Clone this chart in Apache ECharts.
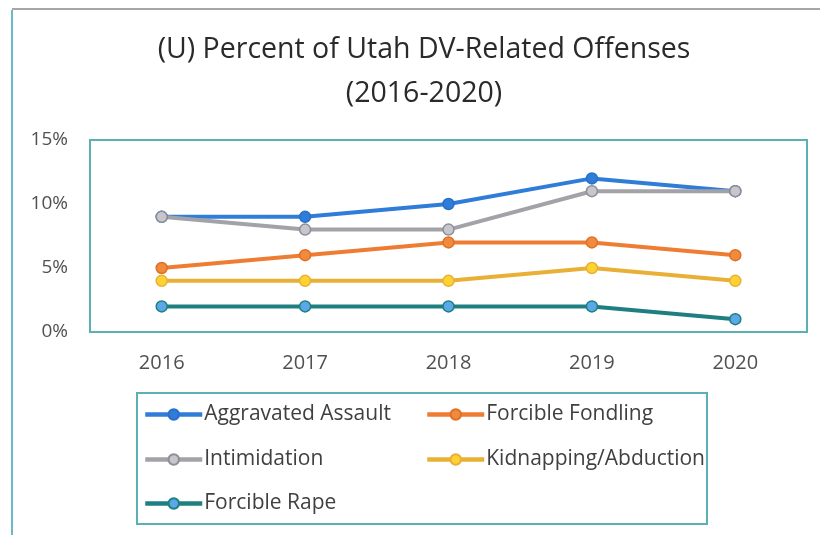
<!DOCTYPE html>
<html><head><meta charset="utf-8">
<script src="https://cdn.jsdelivr.net/npm/echarts@6/dist/echarts.min.js"></script>
<style>html,body{margin:0;padding:0;background:#fff}#c{width:820px;height:535px}</style>
</head><body><div id="c"></div>
<script>
const years = ['2016','2017','2018','2019','2020'];
const aggravatedAssault = [9, 9, 10, 12, 11];
const forcibleFondling = [5, 6, 7, 7, 6];
const intimidation = [9, 8, 8, 11, 11];
const kidnapping = [4, 4, 4, 5, 4];
const forcibleRape = [2, 2, 2, 2, 1];
const yTicks = [0, 5, 10, 15];

const FONT = '"Open Sans", sans-serif';
const TEAL = '#5BB0B5';

function mk(name, data, line, fill, border) {
  return {
    name, type: 'line', data,
    symbol: 'circle', symbolSize: 11,
    lineStyle: { color: line, width: 4 },
    itemStyle: { color: fill, borderColor: border, borderWidth: 1.5 },
    emphasis: { disabled: true }
  };
}
const series = [
  mk('Aggravated Assault', aggravatedAssault, '#2F7DD8', '#2F7DD8', '#2A70C8'),
  mk('Forcible Fondling', forcibleFondling, '#EE7D33', '#F08A3C', '#E07028'),
  mk('Intimidation', intimidation, '#A2A2A8', '#C6C6CC', '#8E8E96'),
  mk('Kidnapping/Abduction', kidnapping, '#E8B035', '#FFD233', '#E8B035'),
  mk('Forcible Rape', forcibleRape, '#1F7F80', '#5BA8E8', '#1F7F80')
];

const legendPos = [
  [143, 404], [425, 404], [143, 449], [425, 449], [143, 493]
];
const legends = series.map((s, i) => ({
  data: [s.name], left: legendPos[i][0], top: legendPos[i][1],
  itemWidth: 57, itemHeight: 13, itemGap: 0, selectedMode: false,
  lineStyle: { width: 4.5 },
  textStyle: { fontFamily: FONT, fontSize: 21, color: '#404040', padding: [0, 0, 0, -3] },
  padding: 0
}));

const chart = echarts.init(document.getElementById('c'));
chart.setOption({
  animation: false,
  title: {
    text: '(U) Percent of Utah DV-Related Offenses\n(2016-2020)',
    left: 424, textAlign: 'center', top: 28, padding: 0,
    textStyle: { fontFamily: FONT, fontSize: 28.5, fontWeight: 'normal', color: '#2A2A2A', lineHeight: 44 }
  },
  legend: legends,
  grid: { left: 90, right: 13, top: 140, bottom: 203, show: true, borderColor: TEAL, borderWidth: 2 },
  xAxis: {
    type: 'category', data: years, boundaryGap: true,
    axisLine: { show: false }, axisTick: { show: false },
    axisLabel: { fontFamily: FONT, fontSize: 20, color: '#505050', margin: 21 }
  },
  yAxis: {
    type: 'value', min: yTicks[0], max: yTicks[yTicks.length - 1], interval: 5,
    axisLine: { show: false }, axisTick: { show: false }, splitLine: { show: false },
    axisLabel: { fontFamily: FONT, fontSize: 19, color: '#505050', margin: 22, formatter: '{value}%' }
  },
  graphic: [
    { type: 'line', shape: { x1: 12, y1: 10, x2: 12, y2: 535 }, style: { stroke: '#6BB8C8', lineWidth: 2 } },
    { type: 'line', shape: { x1: 12, y1: 9, x2: 820, y2: 9 }, style: { stroke: '#888888', lineWidth: 1.5 } },
    { type: 'rect', shape: { x: 137, y: 393, width: 570, height: 131 }, style: { fill: 'none', stroke: TEAL, lineWidth: 2 }, z: -1 }
  ],
  series
});
</script></body></html>
